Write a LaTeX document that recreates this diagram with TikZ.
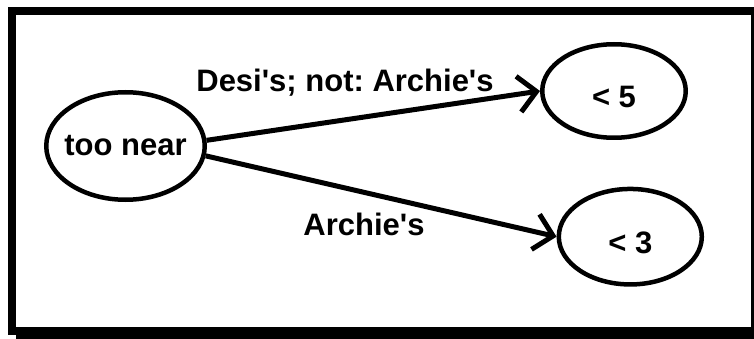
\documentclass[tikz,border=0pt]{standalone}
\usepackage{fontspec}
\setmainfont{Liberation Sans}
\usetikzlibrary{shapes.geometric,arrows.meta}
\frenchspacing
\begin{document}
\begin{tikzpicture}[x=1pt,y=-1pt,
  txt/.style={font=\fontsize{31}{31}\selectfont\bfseries},
  state/.style={draw, ellipse, line width=4.5pt, inner sep=0pt, txt},
  edge/.style={line width=5pt, -{Straight Barb[length=18pt,width=36pt]}},
  lbl/.style={txt, anchor=base, inner sep=0pt},
  frameline/.style={line width=8pt}]
\useasboundingbox (0,0) rectangle (754,339);
% shadow and frame
\fill (16,331) rectangle (762,339);
\draw[frameline] (12,11) rectangle (755,331);
% states
\node[state, minimum width=158.5pt, minimum height=107.5pt] (tn) at (125.5,146) {\makebox[0pt]{too near}};
\node[state, minimum width=143.5pt, minimum height=93.5pt, text height=34pt] (a5) at (614,91) {\makebox[0pt]{< 5}};
\node[state, minimum width=143pt, minimum height=95.5pt, text height=34pt] (a3) at (630.3,236.7) {\makebox[0pt]{< 3}};
% edges
\draw[edge] (tn.4) -- (a5.west);
\draw[edge] (tn.-7) -- (a3.west);
% edge labels
\node[lbl] (l1) at (345,91.7) {Desi\textquotesingle s; not: Archie\textquotesingle s};
\node[lbl] (l2) at (364,235) {Archie\textquotesingle s};
\end{tikzpicture}
\end{document}
